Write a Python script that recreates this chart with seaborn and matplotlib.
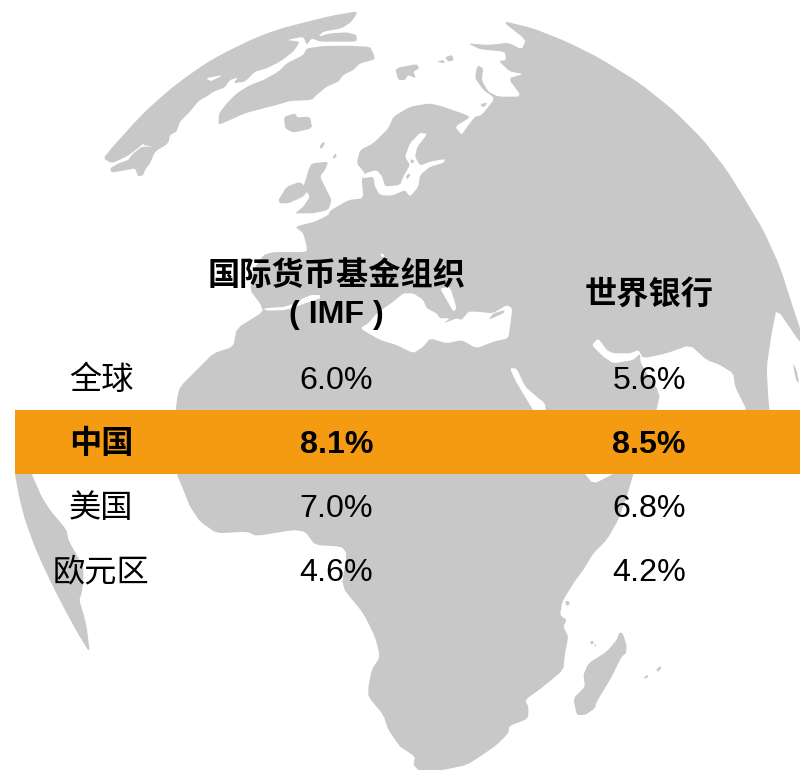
import numpy as np
import pandas as pd
import matplotlib
matplotlib.use("Agg")
import matplotlib.pyplot as plt
from matplotlib.colors import ListedColormap
import seaborn as sns

# table values
regions = ["全球", "中国", "美国", "欧元区"]
imf_growth = [6.0, 8.1, 7.0, 4.6]
wb_growth = [5.6, 8.5, 6.8, 4.2]
highlight_region = "中国"
imf_header = "国际货币基金组织"
imf_header_2 = "( IMF )"
wb_header = "世界银行"

LAND = "#C8C8C8"
ORANGE = "#F49B12"

main_coast = [
    (400, 0, [(305,62),(400,85),(500,125),(600,175),(720,250),(820,330),(910,420),(980,510),(1030,590),(1090,690),(1140,800),(1180,925),(1205,1000),
              (1205,1035),(1130,925),(1115,1000),(1100,1100),(1105,1200),(1120,1320),(1040,1320),(1040,1230),(1005,1160),(1000,1120),
              (960,1095),(920,1080),(870,1035),(800,1060),(730,1075),(715,1050),(690,1060),(640,1060),(620,1050),(595,1015),(575,1035),
              (610,1070),(640,1090),(700,1080),(720,1060),(722,1090),(780,1180),(770,1230)]),
    (400, 470, [(700,12),(695,30),(680,80),(655,150),(620,210),(580,250),(550,300),(520,340),(487,395),(480,435),(500,450),(490,470),
                (505,500),(495,550),(490,600),(430,650),(375,690),(385,710),(385,740),(375,750),(328,768),(325,790),(290,825),(240,860),
                (200,885),(130,900),(60,905),(40,885),(45,860),(0,830)]),
    (0, 470, [(1200,830),(1165,780),(1150,735),(1105,680),(1105,650),(1115,600),(1140,560),(1125,500),(1090,430),(1025,350),(1040,250),
              (1025,230),(945,225),(915,185),(880,180),(770,198),(740,185),(650,190),(600,155),(570,110),(550,60),(530,12)]),
    (0, 240, [(520,600),(530,480),(540,440),(600,380),(640,340),(700,320),(710,265),(790,215),(780,190),(750,150),(760,90),(790,45),
              (820,36),(920,36)]),
    (90, 0, [(650,740),(640,700),(615,680),(675,665),(715,645),(720,632),(775,600),(820,595),(815,535),(825,520),(800,490),(810,450),
             (850,430),(895,385),(910,350),(960,320),(1020,310),(1060,320),(1130,345),(1140,352),(1095,380),(1115,405),(1135,375),
             (1155,350),(1175,345),(1215,295),(1180,270),(1155,235),(1160,205)]),
    (400, 0, [(235,197),(250,205),(245,240),(265,275),(295,290),(365,290),(325,235),(370,222),(330,215),(296,183),(318,180),(315,155),
              (240,148),(203,130),(265,135),(325,128),(365,148),(378,120)]),
]
land_shapes = [
    # canada
    (90, 0, [(40,475),(70,438),(100,405),(135,366),(170,330),(210,294),(250,260),(295,226),(340,195),(385,168),(430,145),(480,121),(530,100),(585,82),
             (640,68),(720,48),(805,33),(785,65),(755,85),(700,95),
             (685,110),(720,100),(770,97),(800,105),(800,125),(740,125),(690,125),(665,115),(650,135),(640,110),(590,120),(630,125),
             (610,155),(570,185),(530,205),(495,215),(465,245),(430,250),(445,232),(420,240),(405,262),(370,275),(350,290),(320,305),
             (305,298),(330,280),(360,245),(400,225),(345,235),(380,250),(340,290),(320,310),(300,335),(270,365),(260,395),(240,405),
             (235,430),(195,455),(180,490),(165,510),(160,525),(145,530),(135,505),(110,510),(65,518),(60,505),(85,490),(115,480),
             (125,465),(155,440),(190,440),(160,435),(140,410),(155,403),(170,420),(150,440),(110,470),(65,490)]),
    # greenland
    (90, 0, [(385,375),(387,340),(410,310),(440,280),(480,255),(520,240),(565,215),(590,190),(640,165),(650,145),(700,138),(770,137),
             (840,140),(850,160),(855,178),(810,190),(790,210),(760,225),(745,245),(710,260),(680,285),(665,300),(600,303),(560,315),
             (520,325),(465,340),(420,360)]),
    (90, 0, [(582,350),(615,340),(622,352),(660,350),(667,385),(610,398),(585,385)]),
    (90, 0, [(688,440),(700,425),(705,430),(695,447)]),
    (90, 0, [(728,470),(738,460),(740,468),(732,477)]),
    (90, 0, [(915,205),(980,192),(988,205),(970,215),(978,235),(955,225),(945,240),(925,240)]),
    (90, 0, [(1040,185),(1060,180),(1065,190)]),
    (90, 0, [(1065,172),(1085,165),(1092,180),(1075,185)]),
    # britain, ireland
    (90, 0, [(655,510),(665,490),(715,485),(705,510),(690,530),(705,560),(725,600),(715,630),(670,640),(635,640),(615,640),(640,620),
             (660,590),(640,560),(650,530)]),
    (90, 0, [(565,600),(590,560),(630,545),(655,570),(640,590),(595,610),(570,610)]),
    # south america
    (0, 470, [(46,-5),(45,12),(58,85),(75,150),(103,228),(135,300),(165,362),(195,420),(232,488),(270,550),(260,470),(250,430),(238,390),(245,370),(250,330),(250,290),
              (205,210),(200,180),(150,120),(125,80),(95,12),(95,-5)]),
    # madagascar and small islands
    (400, 470, [(658,487),(668,490),(680,525),(678,550),(665,560),(630,630),(590,695),(585,715),(555,735),(530,735),(520,685),(555,650),
                (550,615),(565,580),(620,545),(650,510)]),
    (400, 470, [(570,515),(578,512),(582,520),(573,524)]),
    (400, 470, [(582,522),(590,526),(585,530)]),
    (400, 470, [(768,600),(780,588),(784,595),(775,605)]),
    (400, 470, [(732,622),(742,615),(745,620),(735,627)]),
    (400, 0, [(1178,1090),(1190,1110),(1197,1150),(1188,1140)]),
]
sea_shapes = [
    # baltic
    (90, 0, [(815,535),(850,530),(855,560),(870,585),(905,587),(945,570),(960,590),(985,560),(990,525),(1020,500),(1062,488),(1065,477),
             (1020,485),(990,497),(975,470),(982,440),(1012,402),(990,398),(960,430),(945,470),(960,495),(940,530),(930,555),(885,560),
             (877,530),(860,510),(825,520)]),
    # mediterranean
    (280, 230, [(240,295),(300,330),(350,345),(400,370),(430,350),(450,325),(500,340),(545,330),(590,355),(640,335),(685,325),(690,290),
                (697,235),(680,225),(640,250),(590,245),(565,245),(545,270),(530,265),(490,280),(510,265),(480,265),(470,250),(440,235),
                (430,210),(400,190),(370,190),(340,215),(290,250),(265,280)]),
    (280, 230, [(480,175),(510,170),(530,235),(520,245),(500,210)]),
    (280, 230, [(300,70),(310,72),(315,85),(305,80)]),
    (0, 240, [(790,205),(860,200),(930,165),(960,165),(960,175),(930,185),(860,210),(800,212)]),
    # red sea, gulf of aden
    (400, 0, [(330,1105),(350,1105),(375,1160),(410,1190),(435,1210),(438,1240),(405,1240),(375,1190),(345,1140)]),
    (400, 470, [(545,0),(580,42),(640,12),(640,0)]),
]
lake_shapes = [
    (280, 230, [(625,270),(670,250),(675,240),(640,250)]),
    (90, 0, [(955,520),(962,525),(952,538),(948,530)]),
    (90, 0, [(962,478),(972,480),(970,490),(962,488)]),
    (90, 0, [(1172,312),(1192,308),(1185,320),(1175,320)]),
    (400, 470, [(495,395),(505,392),(510,402),(500,408)]),
]


def to_px(x0, y0, pts):
    arr = np.array(pts, dtype=float) / 3
    return arr + [x0, y0]


def smooth(arr):
    # one pass of corner cutting, the traces are a bit angular
    nxt = np.roll(arr, -1, axis=0)
    out = np.empty((len(arr) * 2, 2))
    out[0::2] = 0.85 * arr + 0.15 * nxt
    out[1::2] = 0.15 * arr + 0.85 * nxt
    return out


sns.set_theme(style="white")
plt.rcParams["font.family"] = ["Liberation Sans", "Noto Sans CJK SC", "DejaVu Sans"]

fig = plt.figure(figsize=(8, 7.7), dpi=100)

# background globe in pixel coordinates
map_ax = fig.add_axes([0, 0, 1, 1])
map_ax.set_xlim(0, 800)
map_ax.set_ylim(770, 0)
map_ax.axis("off")

main_pts = np.vstack([to_px(*seg) for seg in main_coast])
map_ax.fill(*smooth(main_pts).T, color=LAND, lw=0)
for shape in land_shapes:
    map_ax.fill(*smooth(to_px(*shape)).T, color=LAND, lw=0)
for shape in sea_shapes:
    map_ax.fill(*smooth(to_px(*shape)).T, color="white", lw=0)
for shape in lake_shapes:
    map_ax.fill(*smooth(to_px(*shape)).T, color=LAND, lw=0)

# table rows, only the highlighted one gets a fill
df = pd.DataFrame({"highlight": [1.0 if r == highlight_region else 0.0 for r in regions]}, index=regions)
tab_ax = fig.add_axes([15 / 800, (770 - 602.1) / 770, 785 / 800, 256.4 / 770])
sns.heatmap(df, ax=tab_ax, mask=df["highlight"].to_frame() == 0, cmap=ListedColormap([ORANGE]),
            cbar=False, xticklabels=False, yticklabels=False, linewidths=0)
tab_ax.patch.set_alpha(0)
tab_ax.set_ylabel("")

FS = 23.2
label_x = (101 - 15) / 785
imf_x = (336.5 - 15) / 785
wb_x = (649 - 15) / 785
for i, region in enumerate(regions):
    weight = "bold" if region == highlight_region else "normal"
    y = i + 0.5 + 0.047
    tab_ax.text(label_x, y, region, ha="center", va="center", fontsize=FS, weight=weight, color="black")
    tab_ax.text(imf_x, y, f"{imf_growth[i]:.1f}%", ha="center", va="center", fontsize=FS, weight=weight, color="black")
    tab_ax.text(wb_x, y, f"{wb_growth[i]:.1f}%", ha="center", va="center", fontsize=FS, weight=weight, color="black")

map_ax.set_zorder(0)
tab_ax.set_zorder(1)
tab_ax.text(imf_x, -1.08, imf_header, ha="center", va="center", fontsize=FS, weight="bold", color="black")
tab_ax.text(imf_x, -0.48, imf_header_2, ha="center", va="center", fontsize=FS, weight="bold", color="black")
tab_ax.text(wb_x, -0.78, wb_header, ha="center", va="center", fontsize=FS, weight="bold", color="black")

fig.savefig("out.png", dpi=100)
